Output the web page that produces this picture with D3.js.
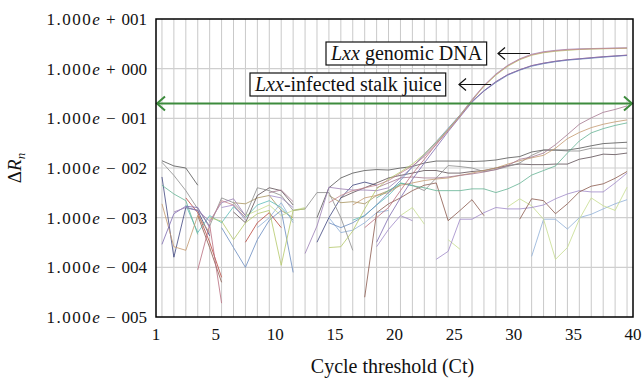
<!DOCTYPE html>
<html>
<head>
<meta charset="utf-8">
<script src="https://cdn.jsdelivr.net/npm/d3@7/dist/d3.min.js"></script>
<style>
  body { margin: 0; background: #fff; }
  svg { display: block; }
</style>
</head>
<body>
<svg id="chart" width="643" height="379"></svg>
<script>
const _ = null;

// cycle numbers (x) and the threshold used for Ct
const cycles = [1,2,3,4,5,6,7,8,9,10,11,12,13,14,15,16,17,18,19,20,
                21,22,23,24,25,26,27,28,29,30,31,32,33,34,35,36,37,38,39,40];
const threshold = 0.2;

const yTickValues = [1e-5, 1e-4, 1e-3, 1e-2, 1e-1, 1e0, 1e1];
const xTickValues = [0, 5, 10, 15, 20, 25, 30, 35, 40];
const xTickLabels = ["1", "5", "10", "15", "20", "25", "30", "35", "40"];

// delta Rn per cycle (null = not drawn / below zero)
// Lxx genomic DNA
const gDNA1 = [_,_,_,_,7.9e-4,2.2e-3,1.8e-3,1.0e-3,_,_,
  _,_,_,_,2.0e-3,2.8e-3,3.5e-3,4.0e-3,4.5e-3,5.6e-3,
  7.9e-3,1.1e-2,1.7e-2,3.0e-2,5.6e-2,0.11,0.23,0.45,0.76,1.15,
  1.55,1.9,2.14,2.29,2.4,2.45,2.5,2.54,2.57,2.6];
const gDNA2 = [_,_,_,_,1.0e-3,8.5e-4,3.6e-4,7.9e-4,1.2e-3,1.4e-3,
  1.1e-4,1.4e-3,1.5e-3,_,2.5e-4,2.6e-4,5.4e-4,1.5e-3,3.8e-3,6.0e-3,
  8.3e-3,1.2e-2,1.9e-2,3.3e-2,6.0e-2,0.115,0.23,0.44,0.74,1.12,
  1.51,1.86,2.09,2.24,2.34,2.43,2.48,2.51,2.54,2.57];
const gDNA3 = [_,1.3e-3,1.6e-3,1.4e-3,8.5e-4,2.0e-3,2.4e-3,1.1e-3,_,_,
  _,_,1.9e-4,6.8e-4,4.1e-3,3.8e-3,3.6e-3,3.6e-3,3.5e-3,4.0e-3,
  6.3e-3,1.05e-2,1.8e-2,3.2e-2,6.0e-2,0.117,0.24,0.46,0.78,1.17,
  1.58,1.95,2.19,2.34,2.45,2.51,2.54,2.57,2.6,2.63];
// Lxx-infected stalk juice
const juice1 = [2.9e-4,1.2e-3,1.7e-3,1.6e-3,6.3e-4,_,_,_,_,_,
  _,_,_,_,_,_,_,_,3.2e-4,1.0e-3,
  2.5e-3,5.9e-3,1.26e-2,2.6e-2,5.4e-2,0.107,0.21,0.36,0.55,0.76,
  0.95,1.15,1.29,1.41,1.51,1.58,1.66,1.74,1.8,1.86];
const juice2 = [_,_,_,_,_,6.3e-4,2.5e-4,1.0e-4,3.6e-4,8.9e-4,
  1.4e-3,7.9e-5,_,_,7.9e-4,6.3e-4,7.9e-4,1.1e-3,1.8e-3,3.2e-3,
  5.6e-3,1.05e-2,1.9e-2,3.4e-2,6.3e-2,0.117,0.22,0.355,0.525,0.74,
  0.93,1.12,1.26,1.38,1.48,1.55,1.62,1.7,1.78,1.84];
const juice3 = [_,_,_,8.9e-5,7.2e-4,1.9e-5,_,_,_,_,
  _,_,_,_,_,_,_,6.3e-4,1.0e-3,1.6e-3,
  3.5e-3,7.6e-3,1.5e-2,3.0e-2,5.9e-2,0.112,0.22,0.355,0.54,0.76,
  0.95,1.15,1.29,1.41,1.51,1.58,1.66,1.74,1.8,1.88];
// negatives / background
const neg1 = [_,_,_,_,_,_,_,_,_,3.2e-3,
  3.6e-3,2.1e-3,_,_,_,_,_,_,4.0e-3,5.0e-3,
  6.3e-3,6.6e-3,6.3e-3,6.3e-3,6.6e-3,7.1e-3,7.6e-3,8.3e-3,9.3e-3,1.12e-2,
  1.5e-2,1.66e-2,2.0e-2,2.95e-2,4.7e-2,7.6e-2,0.102,0.132,0.151,0.178];
const neg2 = [1.9e-3,2.6e-4,2.2e-4,1.1e-3,5.0e-4,_,_,_,_,_,
  _,_,_,_,_,_,1.8e-3,2.5e-3,2.8e-3,3.2e-3,
  4.5e-3,5.0e-3,5.6e-3,6.0e-3,6.3e-3,7.1e-3,7.9e-3,8.9e-3,1.0e-2,1.2e-2,
  1.4e-2,1.6e-2,1.8e-2,2.5e-2,3.9e-2,5.2e-2,6.5e-2,7.6e-2,8.5e-2,9.3e-2];
const neg3 = [4.5e-3,3.0e-3,2.2e-3,4.6e-4,_,_,_,_,_,_,
  _,_,_,_,_,_,_,_,2.5e-3,3.5e-3,
  4.9e-3,4.4e-3,4.0e-3,3.5e-3,3.5e-3,3.5e-3,3.8e-3,3.8e-3,3.2e-3,3.8e-3,
  4.9e-3,7.2e-3,8.9e-3,1.1e-2,2.0e-2,3.5e-2,5.1e-2,6.2e-2,7.2e-2,8.1e-2];
const neg4 = [1.4e-2,1.1e-2,1.0e-2,4.5e-3,_,_,_,_,_,_,
  _,_,_,1.0e-3,4.0e-3,6.3e-3,7.9e-3,8.9e-3,9.3e-3,9.1e-3,
  1.0e-2,1.07e-2,1.26e-2,1.38e-2,1.38e-2,1.38e-2,1.35e-2,1.38e-2,1.45e-2,1.6e-2,
  1.7e-2,2.1e-2,2.3e-2,2.3e-2,2.3e-2,2.5e-2,2.8e-2,3.1e-2,3.2e-2,3.3e-2];
const neg5 = [1.3e-2,7.1e-3,3.5e-3,1.5e-3,6.8e-4,2.5e-3,2.0e-3,1.1e-3,4.0e-3,3.5e-3,
  2.8e-3,1.4e-3,1.5e-3,3.2e-3,3.2e-3,1.0e-3,2.2e-4,_,_,_,
  _,4.5e-3,3.5e-3,6.3e-3,1.12e-2,1.07e-2,1.0e-2,8.5e-3,9.3e-3,1.07e-2,
  1.26e-2,1.8e-2,2.3e-2,2.3e-2,2.2e-2,2.2e-2,2.5e-2,2.5e-2,2.5e-2,2.5e-2];
const neg6 = [_,_,_,_,_,_,1.3e-3,7.9e-4,2.8e-3,4.0e-3,
  3.5e-3,1.8e-3,_,_,_,2.5e-3,3.2e-3,4.0e-3,5.0e-3,6.3e-3,
  7.1e-3,7.9e-3,8.9e-3,8.9e-3,7.9e-3,7.9e-3,8.5e-3,8.9e-3,1.0e-2,1.12e-2,
  1.2e-2,1.17e-2,1.17e-2,1.2e-2,1.2e-2,1.5e-2,1.66e-2,1.9e-2,1.86e-2,2.0e-2];
const neg7 = [_,_,_,1.1e-3,2.5e-4,5.0e-5,_,_,_,_,
  _,_,_,_,_,_,_,2.5e-5,1.26e-3,1.9e-3,
  2.5e-3,3.5e-3,4.5e-3,5.0e-3,8.7e-4,1.4e-3,2.3e-3,1.1e-3,_,_,
  9.3e-4,2.4e-3,2.2e-3,1.2e-3,1.9e-3,3.3e-3,4.3e-3,4.8e-3,6.2e-3,8.5e-3];
const neg8 = [_,_,_,_,_,1.6e-3,1.8e-3,8.9e-4,_,2.8e-3,
  2.5e-3,1.6e-3,_,_,_,_,_,_,2.6e-4,5.8e-4,
  1.1e-3,8.7e-4,_,1.45e-4,2.1e-4,9.3e-4,9.3e-4,1.26e-3,1.6e-3,1.5e-3,
  1.5e-3,1.6e-3,1.8e-3,2.4e-3,3.0e-3,3.5e-3,3.3e-3,3.3e-3,5.0e-3,7.9e-3];
const neg9 = [_,_,_,_,_,_,_,1.1e-3,1.4e-3,1.8e-3,
  1.1e-3,1.4e-3,1.6e-3,_,_,_,_,_,_,_,
  1.1e-3,1.6e-3,7.4e-4,_,3.6e-4,2.3e-4,_,_,_,1.66e-3,
  2.4e-3,1.74e-3,9.3e-4,1.45e-4,2.5e-4,9.3e-4,2.5e-3,1.74e-3,1.4e-3,4.1e-3];
const neg10 = [_,_,_,_,_,_,_,_,6.3e-4,1.0e-3,
  2.0e-3,7.9e-4,_,_,1.0e-3,5.0e-4,5.6e-4,7.9e-4,1.26e-3,1.4e-3,
  _,_,_,_,_,_,_,_,_,_,
  _,1.66e-4,9.3e-4,9.3e-4,5.9e-4,1.0e-3,1.17e-3,1.5e-3,1.9e-3,2.3e-3];
const neg11 = [_,_,1.8e-3,5.0e-4,1.1e-3,7.9e-4,1.66e-3,1.0e-3,1.8e-3,2.2e-3,
  1.6e-3,8.9e-4,_,_,_,_,8.9e-4,1.1e-3,1.8e-3,2.8e-3,
  5.0e-3,4.5e-3,_,_,_,_,_,_,_,_,
  _,_,_,_,_,_,_,_,_,_];
const neg12 = [_,_,2.5e-3,1.26e-3,3.2e-4,6.3e-5,_,3.2e-4,7.9e-4,1.26e-3,
  6.3e-4,_,_,_,_,_,_,_,_,_,
  _,_,_,_,_,_,_,_,_,_,
  _,_,_,_,_,_,_,_,_,_];
const neg13 = [6.6e-3,1.6e-4,1.6e-3,1.4e-3,4.3e-4,_,_,_,_,_,
  _,_,_,3.2e-4,1.0e-3,2.5e-3,4.5e-3,5.2e-3,4.5e-3,_,
  _,_,_,_,_,_,_,_,_,_,
  _,_,_,_,_,_,_,_,_,_];
const neg14 = [_,_,_,_,_,_,2.0e-3,1.9e-3,2.5e-3,2.8e-3,
  1.4e-3,1.0e-3,_,_,2.8e-3,2.0e-3,2.1e-3,1.9e-3,2.8e-3,3.5e-3,
  4.5e-3,_,_,_,_,_,_,_,_,_,
  _,_,_,_,_,_,_,_,_,_];

const series = [
  { values: neg12, color: "#b8463e" },
  { values: neg13, color: "#404680" },
  { values: neg14, color: "#a89460" },
  { values: neg11, color: "#5cbcb8" },
  { values: neg10, color: "#8fb0d8" },
  { values: neg9,  color: "#c6dc8e" },
  { values: neg8,  color: "#a08ac8" },
  { values: neg7,  color: "#8b5a4e" },
  { values: neg6,  color: "#5e4f55" },
  { values: neg5,  color: "#8c8c8c" },
  { values: neg4,  color: "#555555" },
  { values: neg3,  color: "#66b394" },
  { values: neg2,  color: "#c39a70" },
  { values: neg1,  color: "#a5788f" },
  { values: juice3, color: "#b86e80" },
  { values: juice2, color: "#6a8cc0" },
  { values: juice1, color: "#7d6bb0" },
  { values: gDNA3, color: "#9c7fb5" },
  { values: gDNA2, color: "#b5c96a" },
  { values: gDNA1, color: "#c3868f" }
];

const svg = d3.select("#chart");
const serif = "'Liberation Serif', 'Times New Roman', serif";

const x = d3.scaleLinear().domain([0, 40]).range([156, 633]);
const y = d3.scaleLog().domain([1e-5, 1e1]).range([317, 19]);

// grid
svg.append("g")
  .selectAll("line")
  .data(cycles)
  .join("line")
  .attr("x1", d => x(d - 0.5)).attr("x2", d => x(d - 0.5))
  .attr("y1", y(1e1)).attr("y2", y(1e-5))
  .attr("stroke", "#c9c9c9").attr("stroke-width", 1);

svg.append("g")
  .selectAll("line")
  .data(yTickValues.slice(1, -1))
  .join("line")
  .attr("x1", x(0)).attr("x2", x(40))
  .attr("y1", d => y(d)).attr("y2", d => y(d))
  .attr("stroke", "#cfcfcf").attr("stroke-width", 1.2);

// curves
const line = d3.line()
  .defined(d => d.v != null && d.v > 0)
  .x(d => x(d.c - 0.5))
  .y(d => y(d.v));

svg.append("g")
  .selectAll("path")
  .data(series)
  .join("path")
  .attr("d", s => line(cycles.map((c, i) => ({ c: c, v: s.values[i] }))))
  .attr("fill", "none")
  .attr("stroke", s => s.color)
  .attr("stroke-width", 0.9)
  .attr("stroke-opacity", 0.9);

// threshold line with open arrow heads
const ty = y(threshold);
const thr = svg.append("g").attr("stroke", "#3d8b3d").attr("stroke-width", 2).attr("fill", "none");
thr.append("line").attr("x1", x(0) + 1).attr("x2", x(40) - 1).attr("y1", ty).attr("y2", ty);
thr.append("path").attr("d", `M${x(0) + 9},${ty - 7}L${x(0) + 1},${ty}L${x(0) + 9},${ty + 7}`);
thr.append("path").attr("d", `M${x(40) - 9},${ty - 7}L${x(40) - 1},${ty}L${x(40) - 9},${ty + 7}`);

// frame
svg.append("rect")
  .attr("x", x(0)).attr("y", y(1e1))
  .attr("width", x(40) - x(0)).attr("height", y(1e-5) - y(1e1))
  .attr("fill", "none").attr("stroke", "#000").attr("stroke-width", 1.5);

// y tick labels  1.000e + 001
const yLab = svg.append("g")
  .attr("font-family", serif).attr("font-size", 17)
  .attr("text-anchor", "end").attr("fill", "#111");
yTickValues.forEach(v => {
  const p = Math.round(Math.log10(v));
  const t = yLab.append("text").attr("x", 147).attr("y", y(v)).attr("dy", "0.35em");
  t.append("tspan").attr("letter-spacing", 1.5).text("1.000");
  t.append("tspan").attr("font-style", "italic").text("e");
  t.append("tspan").attr("dx", 6).text(p < 0 ? "\u2212" : "+");
  t.append("tspan").attr("dx", 6).text(String(Math.abs(p)).padStart(3, "0"));
});

// x tick labels
svg.append("g")
  .attr("font-family", serif).attr("font-size", 17)
  .attr("text-anchor", "middle").attr("fill", "#111")
  .selectAll("text")
  .data(xTickValues)
  .join("text")
  .attr("x", d => x(d))
  .attr("y", 340)
  .text((d, i) => xTickLabels[i]);

// axis titles
svg.append("text")
  .attr("x", (x(0) + x(40)) / 2 - 2).attr("y", 373)
  .attr("text-anchor", "middle")
  .attr("font-family", serif).attr("font-size", 20).attr("fill", "#111")
  .text("Cycle threshold (Ct)");

const yt = svg.append("text")
  .attr("transform", "translate(21,168) rotate(-90)")
  .attr("text-anchor", "middle")
  .attr("font-family", serif).attr("font-size", 19).attr("fill", "#111");
yt.append("tspan").text("\u0394");
yt.append("tspan").attr("font-style", "italic").text("R");
yt.append("tspan").attr("font-style", "italic").attr("font-size", 13).attr("dy", 4).text("n");

// annotations
function note(tx, tbase, rest, arrowFrom, arrowTo) {
  const g = svg.append("g");
  const t = g.append("text")
    .attr("x", tx).attr("y", tbase)
    .attr("font-family", serif).attr("font-size", 20).attr("fill", "#111");
  t.append("tspan").attr("font-style", "italic").text("Lxx");
  t.append("tspan").text(rest);
  const b = t.node().getBBox();
  g.insert("rect", "text")
    .attr("x", b.x - 4).attr("y", b.y)
    .attr("width", b.width + 8).attr("height", b.height)
    .attr("fill", "#fff").attr("stroke", "#111").attr("stroke-width", 1.2);
  const ay = b.y + b.height / 2;
  g.append("path")
    .attr("d", `M${arrowTo},${ay}H${arrowFrom}M${arrowFrom + 7},${ay - 6}L${arrowFrom},${ay}L${arrowFrom + 7},${ay + 6}`)
    .attr("fill", "none").attr("stroke", "#111").attr("stroke-width", 1.2);
}
note(331, 60, " genomic DNA", 498, 530);
note(255, 91, "-infected stalk juice", 459, 491);
</script>
</body>
</html>
